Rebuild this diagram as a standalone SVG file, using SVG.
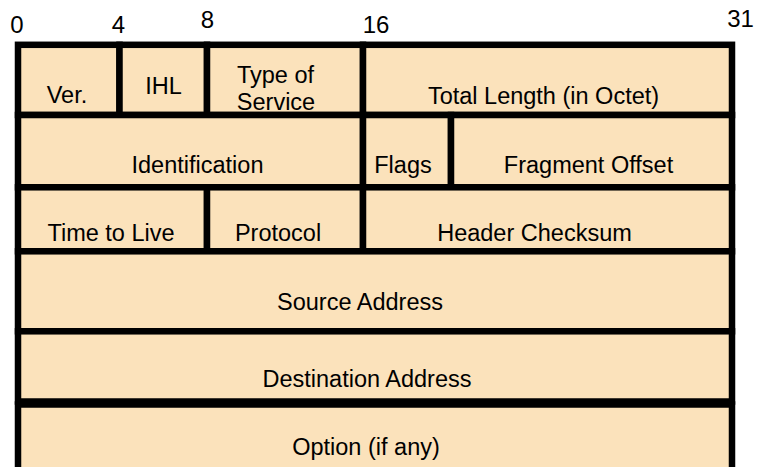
<svg xmlns="http://www.w3.org/2000/svg" width="757" height="467" viewBox="0 0 757 467">
<style>
  .cell { fill: #FBE2BB; stroke: #000; stroke-width: 6.5; }
  text { font-family: "Liberation Sans", Arial, sans-serif; font-size: 23.5px; fill: #000; text-anchor: middle; }
  .num { font-size: 24px; }
</style>
<rect width="757" height="467" fill="#fff"/>
<g id="bit-numbers">
  <text class="num" x="17" y="33">0</text>
  <text class="num" x="118.5" y="33">4</text>
  <text class="num" x="207.5" y="27.5">8</text>
  <text class="num" x="376" y="33">16</text>
  <text class="num" x="740.5" y="27">31</text>
</g>
<g id="ver"><rect class="cell" x="18" y="44.8" width="101.5" height="70.2"/><text x="67" y="102.5">Ver.</text></g>
<g id="ihl"><rect class="cell" x="119.5" y="44.8" width="87.5" height="70.2"/><text x="163.5" y="94">IHL</text></g>
<g id="tos"><rect class="cell" x="207" y="44.8" width="156" height="70.2"/><text x="275.5" y="82.5">Type of</text><text x="276" y="110">Service</text></g>
<g id="total-length"><rect class="cell" x="363" y="44.8" width="369" height="70.2"/><text x="543.5" y="104">Total Length (in Octet)</text></g>
<g id="identification"><rect class="cell" x="18" y="115" width="345" height="72.3"/><text x="197.5" y="172.5">Identification</text></g>
<g id="flags"><rect class="cell" x="363" y="115" width="88" height="72.3"/><text x="403" y="172.5">Flags</text></g>
<g id="fragment-offset"><rect class="cell" x="451" y="115" width="281" height="72.3"/><text x="588.5" y="172.5">Fragment Offset</text></g>
<g id="ttl"><rect class="cell" x="18" y="187.3" width="189" height="64"/><text x="111" y="241">Time to Live</text></g>
<g id="protocol"><rect class="cell" x="207" y="187.3" width="156" height="64"/><text x="278" y="241">Protocol</text></g>
<g id="checksum"><rect class="cell" x="363" y="187.3" width="369" height="64"/><text x="534.5" y="241">Header Checksum</text></g>
<g id="source"><rect class="cell" x="18" y="251.3" width="714" height="80"/><text x="360" y="310">Source Address</text></g>
<g id="destination"><rect class="cell" x="18" y="331.3" width="714" height="70.2"/><text x="367" y="386.5">Destination Address</text></g>
<g id="option"><rect class="cell" x="18" y="404.5" width="714" height="80"/><text x="366" y="455">Option (if any)</text></g>
<g id="connectors"></g>
</svg>
